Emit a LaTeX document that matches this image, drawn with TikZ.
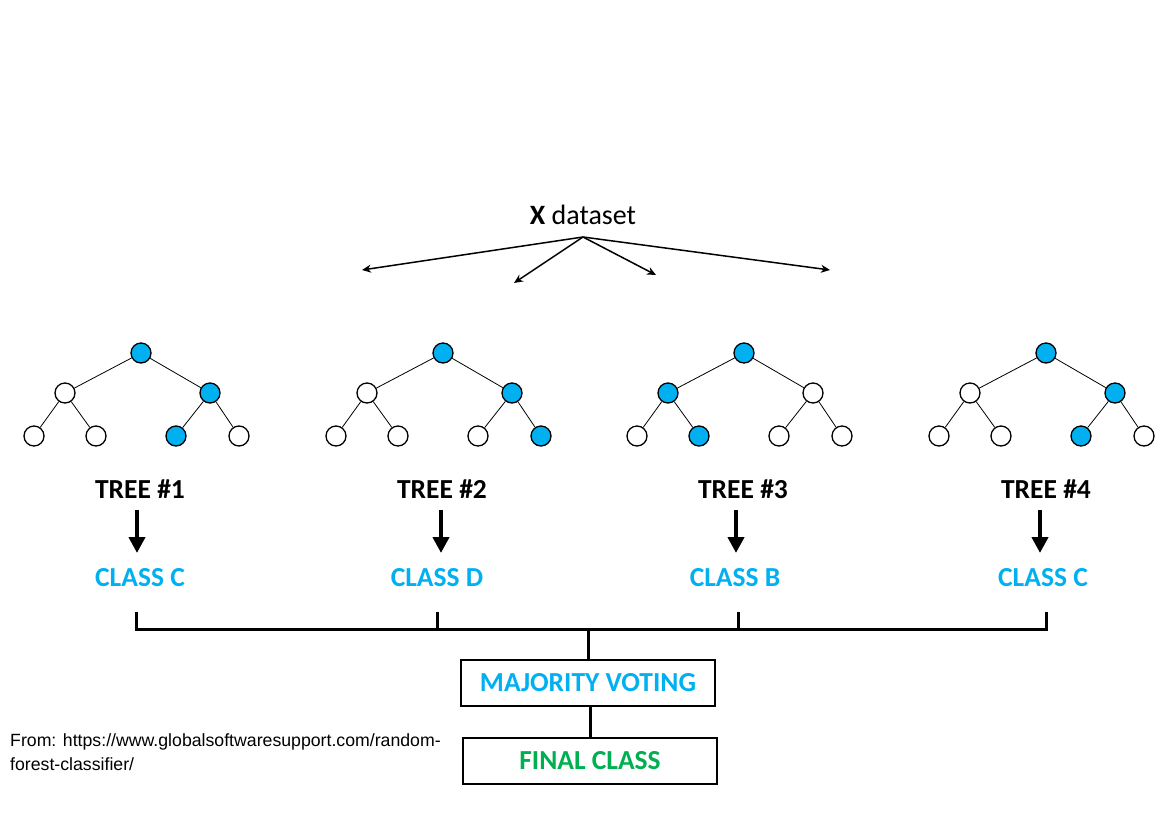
\documentclass[tikz,border=0pt]{standalone}
\usepackage{fontspec}
\setmainfont{Carlito}
\newfontfamily\arialf{Liberation Sans}
\usetikzlibrary{arrows.meta}
\definecolor{cblue}{HTML}{00B0F0}
\definecolor{cgreen}{HTML}{00B050}
\tikzset{
  tn/.style={circle,draw=black,line width=1.3pt,minimum size=20pt,inner sep=0pt,fill=white},
  bn/.style={tn,fill=cblue},
  edge/.style={line width=0.8pt},
  treelabel/.style={font=\fontsize{27.5}{32}\selectfont\bfseries,inner sep=0pt},
  classlabel/.style={font=\fontsize{27.5}{32}\selectfont\bfseries,text=cblue,inner sep=0pt},
  thickarrow/.style={line width=4.5pt,-{Triangle[length=16pt,width=16pt]}},
  fanarrow/.style={line width=1.5pt,-{Stealth[length=9pt,width=8pt]}},
  bar/.style={line width=3pt},
  resbox/.style={draw=black,line width=2.2pt,minimum width=254pt,minimum height=46pt,inner sep=0pt,font=\fontsize{27.5}{32}\selectfont\bfseries}
}
\begin{document}
\begin{tikzpicture}[x=1pt,y=-1pt]
\useasboundingbox (0,0) rectangle (1160,839);
% X dataset
\node[inner sep=0pt,font=\fontsize{28}{32}\selectfont] (xd) at (583,215) {\textbf{X} dataset};
\coordinate (xs) at (583,237);
\coordinate (f1) at (362,270);
\coordinate (f2) at (514,283);
\coordinate (f3) at (656,275);
\coordinate (f4) at (830,270);
\foreach \f in {f1,f2,f3,f4} \draw[fanarrow] (xs) -- (\f);
% Trees
\newcommand{\mytree}[9]{%
  \node[#3] (#1r) at (#2,353) {};
  \node[#4] (#1a) at (#2-76,393) {};
  \node[#5] (#1b) at (#2+69,393) {};
  \node[#6] (#1c) at (#2-107,436) {};
  \node[#7] (#1d) at (#2-45,436) {};
  \node[#8] (#1e) at (#2+35,436) {};
  \node[#9] (#1f) at (#2+98,436) {};
  \draw[edge] (#1r) -- (#1a);
  \draw[edge] (#1r) -- (#1b);
  \draw[edge] (#1a) -- (#1c);
  \draw[edge] (#1a) -- (#1d);
  \draw[edge] (#1b) -- (#1e);
  \draw[edge] (#1b) -- (#1f);
}
\mytree{ta}{141}{bn}{tn}{bn}{tn}{tn}{bn}{tn}
\mytree{tb}{443}{bn}{tn}{bn}{tn}{tn}{tn}{bn}
\mytree{tc}{744}{bn}{bn}{tn}{tn}{bn}{tn}{tn}
\mytree{td}{1046}{bn}{tn}{bn}{tn}{tn}{bn}{tn}
% labels
\node[treelabel] (l1) at (140,489) {TREE \#1};
\node[treelabel] (l2) at (442,489) {TREE \#2};
\node[treelabel] (l3) at (743,489) {TREE \#3};
\node[treelabel] (l4) at (1046,489) {TREE \#4};
\node[classlabel] (c1) at (140,578) {CLASS C};
\node[classlabel] (c2) at (437,578) {CLASS D};
\node[classlabel] (c3) at (735,578) {CLASS B};
\node[classlabel] (c4) at (1043,578) {CLASS C};
\coordinate (a1s) at (137,510); \coordinate (a1e) at (137,553);
\coordinate (a2s) at (441,510); \coordinate (a2e) at (441,553);
\coordinate (a3s) at (736,510); \coordinate (a3e) at (736,553);
\coordinate (a4s) at (1040,510); \coordinate (a4e) at (1040,553);
\draw[thickarrow] (a1s) -- (a1e);
\draw[thickarrow] (a2s) -- (a2e);
\draw[thickarrow] (a3s) -- (a3e);
\draw[thickarrow] (a4s) -- (a4e);
% bracket
\coordinate (b1) at (136,612); \coordinate (b2) at (437,612);
\coordinate (b3) at (738,612); \coordinate (b4) at (1046,612);
\draw[bar,line join=miter] (b1) -- (136,629) -- (1046,629) -- (b4);
\draw[bar] (b2) -- (437,629);
\draw[bar] (b3) -- (738,629);
% boxes
\node[resbox,text=cblue] (mv) at (588,683) {MAJORITY VOTING};
\node[resbox,text=cgreen] (fc) at (590,761) {FINAL CLASS};
\coordinate (bm) at (588,629);
\draw[bar] (bm) -- (mv.north);
\draw[bar] (fc.north |- mv.south) -- (fc.north);
% source
\node[anchor=north west,inner sep=0pt,align=left,font=\arialf\fontsize{17.7}{24}\selectfont] (src) at (10,733) {From: https://www.globalsoftwaresupport.com/random-\\forest-classifier/};
\end{tikzpicture}
\end{document}
